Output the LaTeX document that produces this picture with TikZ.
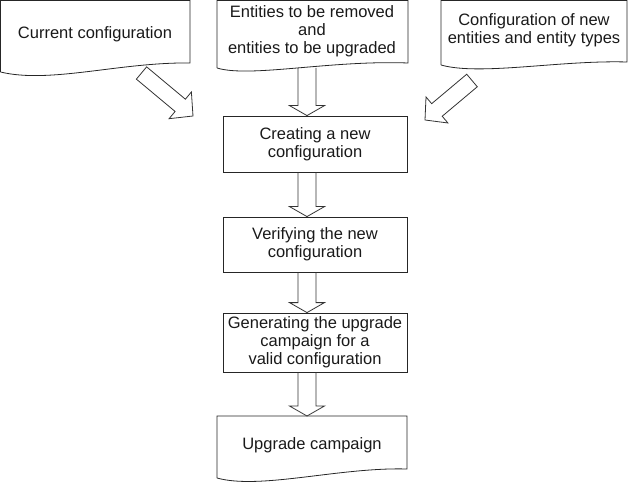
\documentclass[tikz,border=0pt]{standalone}
\usepackage{fontspec}
\setmainfont{Liberation Sans}
\usetikzlibrary{calc}
\newcommand{\blockarrow}[6]{%
  \draw[arrowline] let \p1=(#1), \p2=(#2), \n1={atan2(\y2-\y1,\x2-\x1)}, \n2={veclen(\x2-\x1,\y2-\y1)} in
    ($(\p1)+(\n1+90:#3)$) -- ($(\p1)+(\n1:\n2-#5)+(\n1+90:#3)$) -- ($(\p1)+(\n1:\n2-#5)+(\n1+90:#4)$)
    -- (\p2) -- ($(\p1)+(\n1:\n2-#5)+(\n1-90:#4)$) -- ($(\p1)+(\n1:\n2-#5)+(\n1-90:#3)$) -- ($(\p1)+(\n1-90:#3)$) #6;
}
\begin{document}
\begin{tikzpicture}[x=1pt,y=-1pt,
  shapeline/.style={draw=black!85, line width=0.8pt},
  arrowline/.style={draw=black!80, line width=0.8pt, line join=miter},
  txt/.style={font=\fontsize{16.5}{18}\selectfont, align=center, inner sep=0pt, text=black!90},
  procbox/.style={shapeline, txt, minimum width=184pt, inner sep=0pt}]
\useasboundingbox (0,0) rectangle (630,484);

% document shapes
\draw[shapeline] (0.5,72) -- (0.5,0.5) -- (190,0.5) -- (190,63) .. controls (120,62) and (50,84) .. (0.5,72);
\draw[shapeline] (217,68) -- (217,0.5) -- (408,0.5) -- (408,63) .. controls (330,60) and (250,78) .. (217,68);
\draw[shapeline] (441,65) -- (441,0.5) -- (627,0.5) -- (627,62) .. controls (560,60) and (480,76) .. (441,65);
\draw[shapeline] (217,478) -- (217,416) -- (407,416) -- (407,469) .. controls (340,467) and (260,490) .. (217,478);

\node[txt] (cur) at (95,34) {Current configuration};
\node[txt] (ent) at (312,31) {Entities to be removed\\and\\entities to be upgraded};
\node[txt] (newcfg) at (534,30) {Configuration of new\\entities and entity types};
\node[txt] (camp) at (312,445) {Upgrade campaign};

% process boxes
\node[procbox, minimum height=56pt] (create) at (315,144) {Creating a new\\configuration};
\node[procbox, minimum height=55pt] (verify) at (315,244.5) {Verifying the new\\configuration};
\node[procbox, minimum height=59pt] (gen) at (315,342.5) {Generating the upgrade\\campaign for a\\valid configuration};

% arrow end points
\coordinate (a1s) at (141.5,73);
\coordinate (a1e) at (193,116);
\coordinate (a2s) at (472,80.5);
\coordinate (a2e) at (425,120);
\coordinate (v1s) at (307,68);
\coordinate (v1e) at ($(create.north)+(-8,0)$);
\coordinate (v2s) at ($(create.south)+(-8,0)$);
\coordinate (v2e) at ($(verify.north)+(-8,0)$);
\coordinate (v3s) at ($(verify.south)+(-8,0)$);
\coordinate (v3e) at ($(gen.north)+(-8,0)$);
\coordinate (v4s) at ($(gen.south)+(-8,0)$);
\coordinate (v4e) at (307,416);

\blockarrow{a1s}{a1e}{8pt}{17.4pt}{16.6pt}{-- cycle}
\blockarrow{a2s}{a2e}{8.2pt}{17pt}{15.6pt}{-- cycle}
\blockarrow{v1s}{v1e}{9pt}{17.5pt}{10pt}{}
\blockarrow{v2s}{v2e}{9pt}{17.5pt}{10pt}{}
\blockarrow{v3s}{v3e}{9pt}{17.5pt}{10pt}{}
\blockarrow{v4s}{v4e}{9pt}{17.5pt}{10pt}{}
\end{tikzpicture}
\end{document}
